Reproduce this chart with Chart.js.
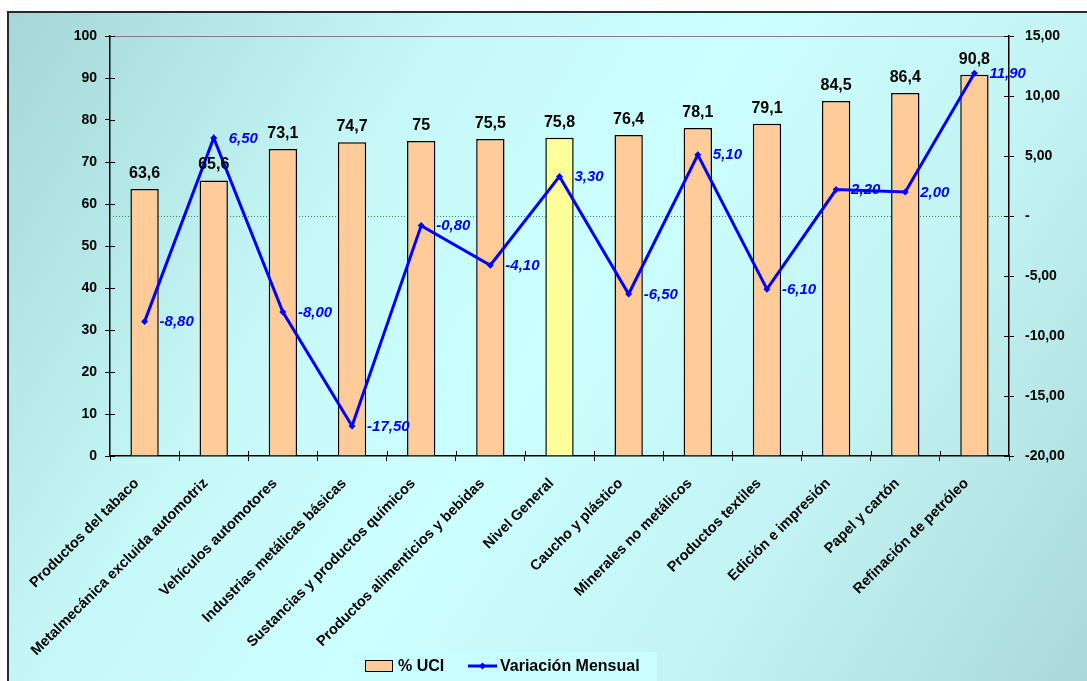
<!DOCTYPE html>
<html>
<head>
<meta charset="utf-8">
<script src="https://cdn.jsdelivr.net/npm/chart.js@4"></script>
<style>
  html, body { margin: 0; padding: 0; background: #ffffff; }
  canvas { display: block; }
</style>
</head>
<body>
<canvas id="c" width="1087" height="681"></canvas>
<script>
// Capacity utilisation by sector and monthly variation
const categories = [
  'Productos del tabaco',
  'Metalmecánica excluida automotriz',
  'Vehículos automotores',
  'Industrias metálicas básicas',
  'Sustancias y productos químicos',
  'Productos alimenticios y bebidas',
  'Nivel General',
  'Caucho y plástico',
  'Minerales no metálicos',
  'Productos textiles',
  'Edición e impresión',
  'Papel y cartón',
  'Refinación de petróleo'
];
const uci = [63.6, 65.6, 73.1, 74.7, 75, 75.5, 75.8, 76.4, 78.1, 79.1, 84.5, 86.4, 90.8];
const variacion = [-8.8, 6.5, -8.0, -17.5, -0.8, -4.1, 3.3, -6.5, 5.1, -6.1, 2.2, 2.0, 11.9];
const highlightCategory = 'Nivel General';

const FONT = "'Liberation Sans', Arial, Helvetica, sans-serif";
const barFill = categories.map(c => c === highlightCategory ? '#FFFF99' : '#FFCC99');

const fmtUci = v => String(v).replace('.', ',');
const fmtVar = v => v.toFixed(2).replace('.', ',');
const fmtRight = v => v === 0 ? '-' : v.toFixed(2).replace('.', ',');

// Background panel, plot frame, zero line and cross ticks
const decor = {
  id: 'decor',
  beforeDraw(chart) {
    const ctx = chart.ctx;
    const W = chart.width, H = chart.height;
    ctx.save();
    ctx.fillStyle = '#ffffff';
    ctx.fillRect(0, 0, W, H);
    const x0 = 8, y0 = 12;
    const g = ctx.createLinearGradient(x0, y0, W, H);
    g.addColorStop(0, '#A6D6D6');
    g.addColorStop(0.3, '#C6F8F8');
    g.addColorStop(0.5, '#CCFFFF');
    g.addColorStop(0.72, '#C4F4F4');
    g.addColorStop(1, '#ABD9D9');
    ctx.fillStyle = g;
    ctx.fillRect(x0, y0, W - x0 + 10, H - y0 + 10);
    ctx.strokeStyle = '#2a2a2a';
    ctx.lineWidth = 2;
    ctx.strokeRect(x0, y0, W - x0 + 20, H - y0 + 20);
    ctx.restore();
  },
  beforeDatasetsDraw(chart) {
    const ctx = chart.ctx;
    const a = chart.chartArea;
    const y2 = chart.scales.y2;
    ctx.save();
    // top frame line of the plot
    ctx.strokeStyle = '#808080';
    ctx.lineWidth = 1;
    ctx.beginPath();
    ctx.moveTo(a.left, a.top + 0.5);
    ctx.lineTo(a.right, a.top + 0.5);
    ctx.stroke();
    // zero reference of the monthly variation
    const yz = Math.round(y2.getPixelForValue(0)) + 0.5;
    ctx.strokeStyle = '#2E8B57';
    ctx.setLineDash([1, 2]);
    ctx.beginPath();
    ctx.moveTo(a.left, yz);
    ctx.lineTo(a.right, yz);
    ctx.stroke();
    ctx.restore();
  },
  afterDraw(chart) {
    const ctx = chart.ctx;
    const a = chart.chartArea;
    const { y, y2 } = chart.scales;
    ctx.save();
    ctx.strokeStyle = '#000000';
    ctx.lineWidth = 1;
    ctx.beginPath();
    y.ticks.forEach(t => {
      const p = Math.round(y.getPixelForValue(t.value)) + 0.5;
      ctx.moveTo(a.left, p); ctx.lineTo(a.left + 5, p);
    });
    y2.ticks.forEach(t => {
      const p = Math.round(y2.getPixelForValue(t.value)) + 0.5;
      ctx.moveTo(a.right - 5, p); ctx.lineTo(a.right, p);
    });
    const n = categories.length;
    const step = (a.right - a.left) / n;
    for (let i = 1; i < n; i++) {
      const p = Math.round(a.left + i * step) + 0.5;
      ctx.moveTo(p, a.bottom - 5); ctx.lineTo(p, a.bottom);
    }
    ctx.stroke();

    // legend
    const lx = 353, ly = 652, lw = 304, lh = 34;
    ctx.fillStyle = '#CAFEFE';
    ctx.fillRect(lx, ly, lw, lh);
    ctx.fillStyle = '#FFCC99';
    ctx.fillRect(365, 660, 28, 12);
    ctx.strokeStyle = '#000000';
    ctx.lineWidth = 1;
    ctx.strokeRect(365.5, 660.5, 27, 11);
    ctx.font = 'bold 16px ' + FONT;
    ctx.fillStyle = '#000000';
    ctx.textBaseline = 'middle';
    ctx.textAlign = 'left';
    ctx.fillText('% UCI', 398, 667);
    ctx.strokeStyle = '#0000FF';
    ctx.lineWidth = 3;
    ctx.beginPath();
    ctx.moveTo(468, 666); ctx.lineTo(497, 666);
    ctx.stroke();
    ctx.fillStyle = '#0000FF';
    ctx.beginPath();
    ctx.moveTo(482.5, 662.5); ctx.lineTo(486, 666); ctx.lineTo(482.5, 669.5); ctx.lineTo(479, 666);
    ctx.closePath(); ctx.fill();
    ctx.fillStyle = '#000000';
    ctx.fillText('Variación Mensual', 500, 667);
    ctx.restore();
  },
  afterDatasetsDraw(chart) {
    const ctx = chart.ctx;
    ctx.save();
    // bar value labels
    const bars = chart.getDatasetMeta(0).data;
    ctx.font = 'bold 16px ' + FONT;
    ctx.fillStyle = '#000000';
    ctx.textAlign = 'center';
    ctx.textBaseline = 'alphabetic';
    bars.forEach((b, i) => {
      ctx.fillText(fmtUci(uci[i]), b.x, b.y - 11);
    });
    // line value labels
    const pts = chart.getDatasetMeta(1).data;
    ctx.font = 'italic bold 15px ' + FONT;
    ctx.fillStyle = '#0000FF';
    ctx.textAlign = 'left';
    ctx.textBaseline = 'middle';
    pts.forEach((p, i) => {
      ctx.fillText(fmtVar(variacion[i]), p.x + 15, p.y + 0.5);
    });
    ctx.restore();
  }
};

new Chart(document.getElementById('c'), {
  data: {
    labels: categories,
    datasets: [
      {
        type: 'bar',
        label: '% UCI',
        data: uci,
        yAxisID: 'y',
        backgroundColor: barFill,
        borderColor: '#000000',
        borderWidth: 1.5,
        categoryPercentage: 1,
        barPercentage: 0.41,
        order: 2
      },
      {
        type: 'line',
        label: 'Variación Mensual',
        data: variacion,
        yAxisID: 'y2',
        borderColor: '#0000FF',
        backgroundColor: '#0000FF',
        borderWidth: 3,
        pointStyle: 'rectRot',
        pointRadius: 3.5,
        pointBorderWidth: 0,
        tension: 0,
        order: 1
      }
    ]
  },
  options: {
    responsive: false,
    animation: false,
    devicePixelRatio: 1,
    layout: { padding: { top: 36, left: 0, right: 0, bottom: 0 } },
    plugins: {
      legend: { display: false },
      tooltip: { enabled: false }
    },
    scales: {
      x: {
        grid: { display: true, drawOnChartArea: false, offset: true, tickLength: 5, color: '#000000' },
        border: { display: true, color: '#000000', width: 1.5 },
        ticks: {
          autoSkip: false,
          maxRotation: 45,
          minRotation: 45,
          padding: 14,
          labelOffset: -8,
          color: '#000000',
          font: { family: FONT, size: 14.5, weight: 'bold' }
        },
        afterFit(s) { s.height = 225; }
      },
      y: {
        position: 'left',
        min: 0,
        max: 100,
        ticks: {
          stepSize: 10,
          padding: 8,
          color: '#000000',
          font: { family: FONT, size: 14, weight: 'bold' }
        },
        grid: { display: true, drawOnChartArea: false, tickLength: 5, color: '#000000' },
        border: { display: true, color: '#000000', width: 1.5 },
        afterFit(s) { s.width = 110; }
      },
      y2: {
        position: 'right',
        min: -20,
        max: 15,
        ticks: {
          stepSize: 5,
          padding: 11,
          color: '#000000',
          font: { family: FONT, size: 14, weight: 'bold' },
          callback: v => fmtRight(v)
        },
        grid: { display: true, drawOnChartArea: false, tickLength: 5, color: '#000000' },
        border: { display: true, color: '#000000', width: 1.5 },
        afterFit(s) { s.width = 78; }
      }
    }
  },
  plugins: [decor]
});
</script>
</body>
</html>
